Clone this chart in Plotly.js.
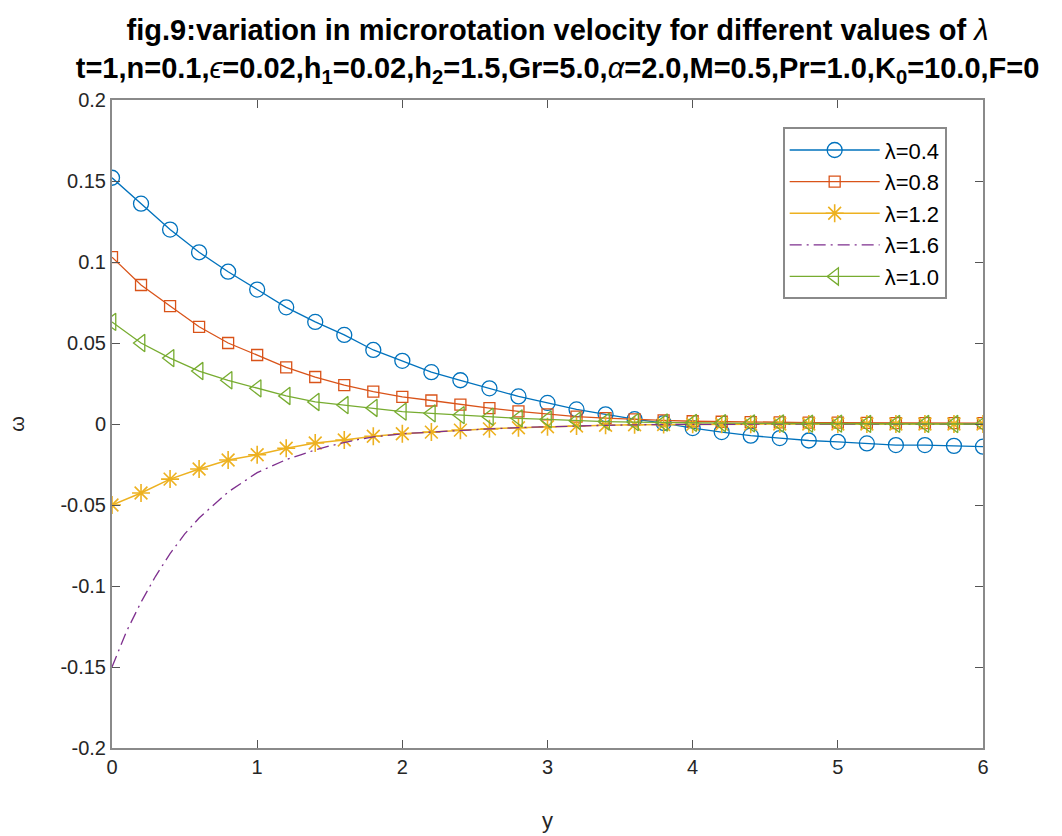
<!DOCTYPE html>
<html>
<head>
<meta charset="utf-8">
<script src="https://cdn.plot.ly/plotly-3.0.1.min.js"></script>
<style>html,body{margin:0;padding:0;background:#fff;}#chart{width:1062px;height:836px;}</style>
</head>
<body>
<div id="chart"></div>
<script>
// grid points y = 0, 0.2, ..., 6
const yGrid = [0,0.2,0.4,0.6,0.8,1.0,1.2,1.4,1.6,1.8,2.0,2.2,2.4,2.6,2.8,3.0,3.2,3.4,3.6,3.8,4.0,4.2,4.4,4.6,4.8,5.0,5.2,5.4,5.6,5.8,6.0];

const w_l04 = [0.152,0.136,0.120,0.106,0.094,0.083,0.072,0.063,0.055,0.0457,0.039,0.032,0.027,0.022,0.017,0.013,0.009,0.006,0.003,0.0006,-0.0025,-0.005,-0.0072,-0.0087,-0.0102,-0.011,-0.012,-0.013,-0.013,-0.0135,-0.014];
const w_l08 = [0.103,0.0858,0.0728,0.060,0.050,0.0426,0.035,0.029,0.024,0.020,0.0167,0.0145,0.012,0.0098,0.0078,0.006,0.0046,0.0036,0.0028,0.0022,0.0017,0.0014,0.0012,0.001,0.0009,0.0008,0.0007,0.0006,0.0006,0.0005,0.0005];
const w_l12 = [-0.050,-0.0426,-0.034,-0.0278,-0.0222,-0.019,-0.015,-0.0117,-0.0099,-0.0076,-0.006,-0.005,-0.0038,-0.003,-0.0023,-0.0017,-0.0012,-0.0008,-0.0005,-0.0003,-0.0002,-0.0001,-0.0001,0,0,0,0,0,0,0,0];
const w_l10 = [0.063,0.050,0.0407,0.0327,0.027,0.022,0.0173,0.0136,0.0117,0.0099,0.0076,0.0066,0.0055,0.0045,0.0035,0.0028,0.002,0.0015,0.0012,0.0009,0.0007,0.0005,0.0004,0.0003,0.0002,0.0002,0.0001,0.0001,0.0001,0,0];

const yFine = [0,0.1,0.2,0.3,0.4,0.5,0.6,0.7,0.8,0.9,1.0,1.1,1.2,1.3,1.4,1.5,1.6,1.7,1.8,1.9,2.0,2.2,2.4,2.6,2.8,3.0,3.2,3.4,3.6,3.8,4.0,4.5,5.0,5.5,6.0];
const w_l16 = [-0.150,-0.128,-0.110,-0.094,-0.080,-0.068,-0.058,-0.050,-0.042,-0.036,-0.030,-0.026,-0.022,-0.019,-0.016,-0.0135,-0.0115,-0.0095,-0.008,-0.007,-0.006,-0.005,-0.0038,-0.003,-0.0022,-0.0016,-0.0012,-0.0008,-0.0005,-0.0003,-0.0002,-0.0001,0,0,0];

const seriesNames = ['λ=0.4','λ=0.8','λ=1.2','λ=1.6','λ=1.0'];
const xTicks = [0,1,2,3,4,5,6];
const yTicks = [-0.2,-0.15,-0.1,-0.05,0,0.05,0.1,0.15,0.2];
const yTickText = ['-0.2','-0.15','-0.1','-0.05','0','0.05','0.1','0.15','0.2'];

const FONT = 'Liberation Sans, Arial, sans-serif';

const traces = [
  {x: yGrid, y: w_l04, name: seriesNames[0], mode: 'lines+markers',
   line: {color: '#0072BD', width: 1.3}, marker: {symbol: 'circle-open', size: 15, color: '#0072BD', line: {width: 1.3}}},
  {x: yGrid, y: w_l08, name: seriesNames[1], mode: 'lines+markers',
   line: {color: '#D95319', width: 1.3}, marker: {symbol: 'square-open', size: 11, color: '#D95319', line: {width: 1.3}}},
  {x: yGrid, y: w_l12, name: seriesNames[2], mode: 'lines+markers',
   line: {color: '#EDB120', width: 1.5}, marker: {symbol: 'asterisk-open', size: 15, color: '#EDB120', line: {width: 1.6, color: '#EDB120'}}},
  {x: yFine, y: w_l16, name: seriesNames[3], mode: 'lines',
   line: {color: '#7E2F8E', width: 1.3, dash: '12px,5px,2px,5px'}},
  {x: yGrid, y: w_l10, name: seriesNames[4], mode: 'lines+markers',
   line: {color: '#77AC30', width: 1.3}, marker: {symbol: 'triangle-left-open', size: 15, color: '#77AC30', line: {width: 1.3}}}
];

const axisCommon = {
  showline: true, mirror: 'ticks', linecolor: '#8a8a8a', linewidth: 2,
  ticks: 'inside', ticklen: 8, tickwidth: 1, tickcolor: '#555',
  showgrid: false, zeroline: false,
  tickfont: {family: FONT, size: 20, color: '#262626'}
};

const layout = {
  width: 1062, height: 836,
  paper_bgcolor: '#fff', plot_bgcolor: '#fff',
  margin: {l: 112, r: 79, t: 100, b: 88},
  font: {family: FONT, color: '#262626'},
  title: {
    text: '<b>fig.9:variation in microrotation velocity for different values of </b><i>λ</i><br><b>t=1,n=0.1,</b><i>ϵ</i><b>=0.02,h<sub>1</sub>=0.02,h<sub>2</sub>=1.5,Gr=5.0,</b><i>α</i><b>=2.0,M=0.5,Pr=1.0,K<sub>0</sub>=10.0,F=0</b>',
    font: {family: FONT, size: 29, color: '#000'},
    x: 0.525, xanchor: 'center', xref: 'container',
    y: 1 - 40/836, yanchor: 'bottom', yref: 'container'
  },
  xaxis: Object.assign({}, axisCommon, {
    range: [0, 6], tickvals: xTicks,
    title: {text: 'y', font: {family: FONT, size: 22, color: '#262626'}, standoff: 36}
  }),
  yaxis: Object.assign({}, axisCommon, {
    range: [-0.2, 0.2], tickvals: yTicks, ticktext: yTickText,
    title: {text: 'ω', font: {family: FONT, size: 20, color: '#262626'}, standoff: 30}
  }),
  showlegend: true,
  legend: {
    x: 0.77, y: 0.958, xanchor: 'left', yanchor: 'top',
    bgcolor: '#fff', bordercolor: '#8a8a8a', borderwidth: 2,
    font: {family: FONT, size: 22, color: '#000'},
    tracegroupgap: 0, itemwidth: 90
  }
};

Plotly.newPlot('chart', traces, layout, {displayModeBar: false, staticPlot: true});
</script>
</body>
</html>
